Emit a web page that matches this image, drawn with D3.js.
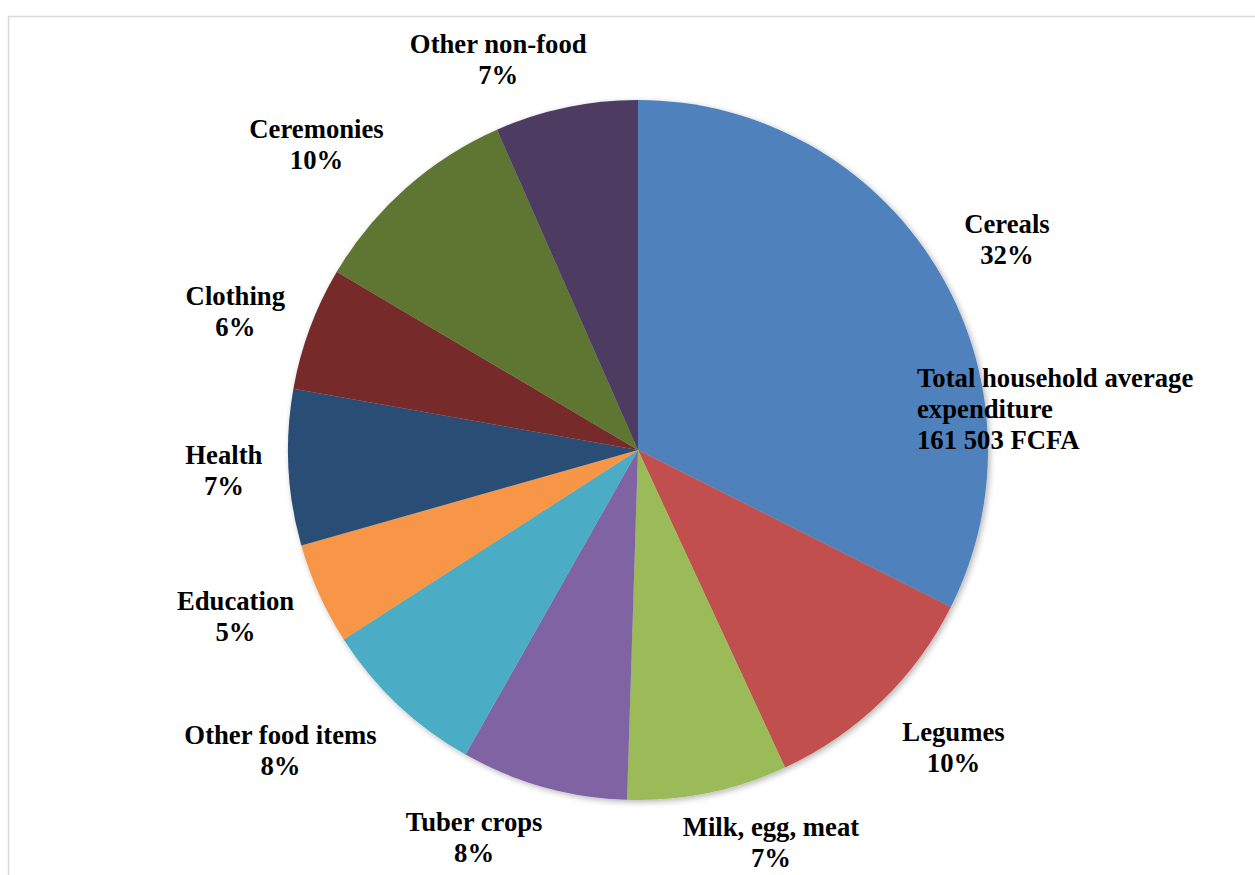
<!DOCTYPE html>
<html>
<head>
<meta charset="utf-8">
<script src="https://cdn.jsdelivr.net/npm/d3@7"></script>
<style>
  body { margin: 0; background: #fff; }
  text { font-family: "Liberation Serif", "Times New Roman", serif; font-weight: bold; fill: #000; }
</style>
</head>
<body>
<div id="pie"></div>
<script>
var categories = ["Cereals", "Legumes", "Milk, egg, meat", "Tuber crops", "Other food items",
                  "Education", "Health", "Clothing", "Ceremonies", "Other non-food"];
var shares = [32.4, 10.7, 7.4, 7.7, 7.7, 4.7, 7.2, 5.7, 9.9, 6.6];
var pct_labels = ["32%", "10%", "7%", "8%", "8%", "5%", "7%", "6%", "10%", "7%"];
var colors = ["#4F81BD", "#C0504D", "#9BBB59", "#8064A2", "#4BACC6",
              "#F79646", "#2C4D75", "#772C2A", "#5F7530", "#4D3B62"];
var note_lines = ["Total household average", "expenditure", "161 503 FCFA"];

var width = 1255, height = 875;
var cx = 638, cy = 450, radius = 350;
var font_size = 26.7, line_h = 31;
// small hand moves of the labels, like the dragged labels in the original
var label_nudge = [[16, 1], [21, 8], [41, -2], [-45, -1], [-36, 8],
                   [-10, 1], [-4, 0], [-7, 2], [-30, -4], [-45, 4]];

var svg = d3.select("#pie").append("svg")
    .attr("width", width)
    .attr("height", height);

// chart frame
svg.append("rect")
    .attr("x", 8.5).attr("y", 16.5)
    .attr("width", 1300).attr("height", 1000)
    .attr("fill", "none")
    .attr("stroke", "#d9d9d9")
    .attr("stroke-width", 1.5);

var defs = svg.append("defs");
var filt = defs.append("filter").attr("id", "shadow")
    .attr("x", "-10%").attr("y", "-10%").attr("width", "120%").attr("height", "120%");
filt.append("feGaussianBlur").attr("in", "SourceAlpha").attr("stdDeviation", 3);
filt.append("feOffset").attr("dx", 2).attr("dy", 2).attr("result", "b");
filt.append("feComponentTransfer").append("feFuncA").attr("type", "linear").attr("slope", 0.3);
var merge = filt.append("feMerge");
merge.append("feMergeNode");
merge.append("feMergeNode").attr("in", "SourceGraphic");

var pie = d3.pie().sort(null).value(function(d) { return d; });
var arcs = pie(shares);
var arc = d3.arc().innerRadius(0).outerRadius(radius);

var g = svg.append("g").attr("transform", "translate(" + cx + "," + cy + ")");

g.append("g").attr("filter", "url(#shadow)")
  .selectAll("path")
    .data(arcs)
  .enter().append("path")
    .attr("d", arc)
    .attr("fill", function(d, i) { return colors[i]; });

// outside-end labels
var gap = 372;
var labels = g.selectAll("g.lab")
    .data(arcs)
  .enter().append("g")
    .attr("class", "lab");

labels.each(function(d, i) {
    var el = d3.select(this);
    var t = el.append("text")
        .attr("text-anchor", "middle")
        .style("font-size", font_size + "px");
    t.append("tspan").attr("x", 0).attr("y", -line_h / 2 + 9).text(categories[i]);
    t.append("tspan").attr("x", 0).attr("y", line_h / 2 + 9).text(pct_labels[i]);
    var w = t.node().getBBox().width;
    var h = line_h * 2;
    var a = (d.startAngle + d.endAngle) / 2;
    var s = Math.sin(a), c = Math.cos(a);
    var x = (gap + w / 2) * s + label_nudge[i][0];
    var y = -(gap + h / 2) * c + label_nudge[i][1];
    el.attr("transform", "translate(" + x + "," + y + ")");
});

// note inside the cereals slice area
var note = svg.append("text")
    .attr("x", 917)
    .attr("y", cy - 63)
    .style("font-size", font_size + "px");
note.selectAll("tspan")
    .data(note_lines)
  .enter().append("tspan")
    .attr("x", 917)
    .attr("dy", function(d, i) { return i == 0 ? 0 : line_h; })
    .text(function(d) { return d; });
</script>
</body>
</html>
